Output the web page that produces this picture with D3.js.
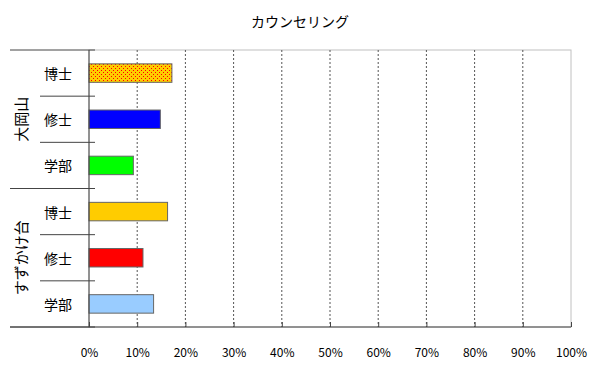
<!DOCTYPE html>
<html>
<head>
<meta charset="utf-8">
<script src="https://cdn.jsdelivr.net/npm/d3@7"></script>
<style>
  body { margin: 0; background: #fff; }
  text { font-family: "Noto Sans CJK JP", sans-serif; fill: #000; }
</style>
</head>
<body>
<svg id="chart" width="600" height="372"></svg>
<script>
// data
const groups = ["大岡山", "すずかけ台"];
const levels = ["博士", "修士", "学部"];
const values = [17.2, 14.8, 9.2, 16.3, 11.2, 13.4];   // 大岡山 x3, すずかけ台 x3 (%)
const barColors = ["#ffcc00", "#0000ff", "#00ff00", "#ffcc00", "#ff0000", "#99ccff"];
const ticks = [0, 10, 20, 30, 40, 50, 60, 70, 80, 90, 100];
const title = "カウンセリング";

const svg = d3.select("#chart");
const margin = {top: 50, right: 29, bottom: 45, left: 89};
const width = 600 - margin.left - margin.right,
      height = 372 - margin.top - margin.bottom;

// pattern for the dotted bar
const defs = svg.append("defs");
const pat = defs.append("pattern")
  .attr("id", "dots")
  .attr("width", 4).attr("height", 4)
  .attr("patternUnits", "userSpaceOnUse");
pat.append("rect").attr("width", 4).attr("height", 4).attr("fill", "#ffcc00");
pat.append("rect").attr("width", 1).attr("height", 1).attr("fill", "#ff0000");
pat.append("rect").attr("x", 2).attr("y", 2).attr("width", 1).attr("height", 1).attr("fill", "#ff0000");

const rows = [];
groups.forEach((g, gi) => levels.forEach((l, li) => rows.push({group: g, level: l, value: values[gi * 3 + li], i: gi * 3 + li})));

const g = svg.append("g").attr("transform", `translate(${margin.left},${margin.top})`);

const x = d3.scaleLinear().domain([0, 100]).range([0, width]);
const y = d3.scaleBand().domain(d3.range(rows.length)).range([0, height]);

// title
svg.append("text")
  .attr("x", 300).attr("y", 27)
  .attr("text-anchor", "middle")
  .style("font-size", "14px")
  .text(title);

// plot frame (light)
g.append("rect")
  .attr("width", width).attr("height", height)
  .attr("fill", "none")
  .attr("stroke", "#c0c0c0");

// gridlines
g.selectAll(".grid")
  .data(ticks.slice(1, -1))
  .enter()
  .append("line")
    .attr("x1", d => x(d)).attr("x2", d => x(d))
    .attr("y1", 0).attr("y2", height)
    .attr("stroke", "#555")
    .attr("stroke-dasharray", "2,2");

// bars
g.selectAll(".bar")
  .data(rows)
  .enter()
  .append("rect")
    .attr("x", 0)
    .attr("y", d => y(d.i) + y.bandwidth() * 0.3)
    .attr("width", d => x(d.value))
    .attr("height", y.bandwidth() * 0.4)
    .attr("fill", (d, i) => i === 0 ? "url(#dots)" : barColors[i])
    .attr("stroke", "#666")
    .attr("stroke-width", 1);

// x axis
const xAxis = g.append("g")
  .attr("transform", `translate(0,${height})`)
  .call(d3.axisBottom(x).tickValues(ticks).tickSize(-5).tickFormat(d => d + "%"));
xAxis.select(".domain").remove();
xAxis.selectAll("line").attr("stroke", "#444");
xAxis.selectAll("text")
  .attr("y", 21)
  .style("font-size", "12px")
  .style("font-family", "'Noto Sans CJK JP', sans-serif");

// bottom axis line
g.append("line")
  .attr("x1", 10 - margin.left).attr("x2", width)
  .attr("y1", height).attr("y2", height)
  .attr("stroke", "#444");

// y axis line
g.append("line")
  .attr("x1", 0).attr("x2", 0)
  .attr("y1", 0).attr("y2", height)
  .attr("stroke", "#444");

// category separators
const sep = d3.range(0, rows.length + 1);
g.selectAll(".sep")
  .data(sep)
  .enter()
  .append("line")
    .attr("x1", d => d % 3 === 0 ? 10 - margin.left : 40 - margin.left)
    .attr("x2", 6)
    .attr("y1", d => d * y.step())
    .attr("y2", d => d * y.step())
    .attr("stroke", "#444");

// level labels
g.selectAll(".lvl")
  .data(rows)
  .enter()
  .append("text")
    .attr("x", -31)
    .attr("y", d => y(d.i) + y.bandwidth() / 2)
    .attr("text-anchor", "middle")
    .attr("dominant-baseline", "central")
    .style("font-size", "14px")
    .text(d => d.level);

// group labels (rotated)
g.selectAll(".grp")
  .data(groups)
  .enter()
  .append("text")
    .attr("transform", (d, i) => `translate(${20 - margin.left},${y.step() * (i * 3 + 1.5)}) rotate(-90)`)
    .attr("text-anchor", "middle")
    .attr("dominant-baseline", "central")
    .style("font-size", "15px")
    .text(d => d);
</script>
</body>
</html>
